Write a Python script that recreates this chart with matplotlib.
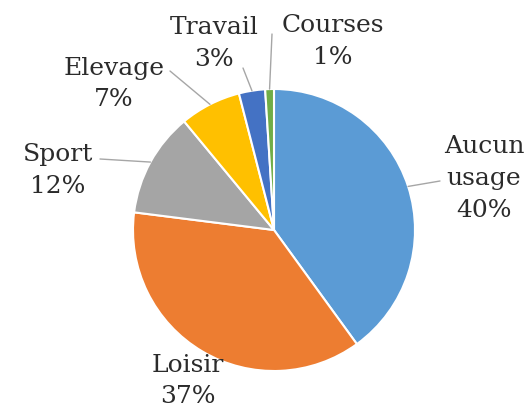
import numpy as np
import matplotlib.pyplot as plt

labels = ['Aucun\nusage', 'Loisir', 'Sport', 'Elevage', 'Travail', 'Courses']
values = [40, 37, 12, 7, 3, 1]
colors = ['#5B9BD5', '#ED7D31', '#A5A5A5', '#FFC000', '#4472C4', '#70AD47']

W, H = 531, 410
fig = plt.figure(figsize=(W / 100, H / 100), dpi=100)
fig.set_facecolor('white')

# pie centre and radius in pixels
cx, cy, r = 274, 231, 141
ax = fig.add_axes([(cx - r) / W, (H - cy - r) / H, 2 * r / W, 2 * r / H])
ax.pie(values, colors=colors, startangle=90, counterclock=False,
       wedgeprops=dict(edgecolor='white', linewidth=1.5))
ax.set_xlim(-1, 1)
ax.set_ylim(-1, 1)
ax.set_aspect('equal')
ax.axis('off')

# label positions (pixels from top-left) and leader start points
label_pos = [(484, 179), (188, 381), (58, 171), (114, 84), (214, 43), (333, 42)]
leader_start = [(440, 182), None, (100, 160), (170, 72), (243, 69), (272, 35)]

total = sum(values)
cum = np.cumsum([0] + values)
for i, (lab, v) in enumerate(zip(labels, values)):
    pct = round(100 * v / total)
    x, y = label_pos[i]
    ax.text(x / W, 1 - y / H, f'{lab}\n{pct}%', transform=fig.transFigure,
            ha='center', va='center', fontsize=18, family='DejaVu Serif',
            color='#2b2b2b', linespacing=1.5)
    if leader_start[i] is not None:
        mid = 90 - 360 * (cum[i] + v / 2) / total
        ex, ey = np.cos(np.radians(mid)), np.sin(np.radians(mid))
        lx, ly = leader_start[i]
        ax.annotate('', xy=(ex, ey), xycoords='data',
                    xytext=(lx, H - ly), textcoords='figure pixels',
                    arrowprops=dict(arrowstyle='-', color='#A6A6A6', lw=1,
                                    shrinkA=0, shrinkB=0))

plt.savefig('out.png', dpi=100)
